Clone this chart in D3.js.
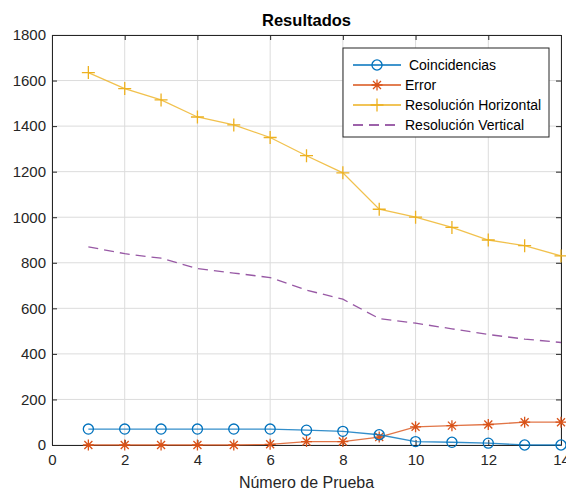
<!DOCTYPE html>
<html>
<head>
<meta charset="utf-8">
<script src="https://cdn.jsdelivr.net/npm/d3@7"></script>
<style>
  body { margin: 0; background: #fff; }
  svg { font-family: "Liberation Sans", Arial, sans-serif; }
</style>
</head>
<body>
<svg id="chart"></svg>
<script>
// chart data
const pruebas = [1, 2, 3, 4, 5, 6, 7, 8, 9, 10, 11, 12, 13, 14];
const coincidencias = [70, 70, 70, 70, 70, 70, 65, 60, 45, 15, 12, 8, 0, 0];
const errores = [0, 0, 0, 0, 0, 3, 15, 15, 35, 80, 85, 90, 100, 100];
const resHorizontal = [1635, 1565, 1515, 1440, 1405, 1350, 1270, 1195, 1035, 1000, 955, 900, 875, 830];
const resVertical = [870, 840, 820, 775, 755, 735, 680, 640, 555, 535, 510, 485, 465, 450];
const xTicks = [0, 2, 4, 6, 8, 10, 12, 14];
const yTicks = [0, 200, 400, 600, 800, 1000, 1200, 1400, 1600, 1800];
const seriesNames = [" Coincidencias", "Error", "Resolución Horizontal", "Resolución Vertical"];

// set up for svg size and position
const svgWidth = 566;
const svgHeight = 493;
const margin = { top: 35, right: 5, bottom: 48, left: 52 };
const width = svgWidth - margin.left - margin.right;
const height = svgHeight - margin.top - margin.bottom;

const svg = d3.select("#chart")
    .attr("width", svgWidth)
    .attr("height", svgHeight)
    .append("g")
    .attr("transform", `translate(${margin.left}, ${margin.top})`);

const xScale = d3.scaleLinear().domain([0, 14]).range([0, width]);
const yScale = d3.scaleLinear().domain([0, 1800]).range([height, 0]);

// grid
svg.append("g")
    .selectAll("line")
    .data(xTicks)
    .join("line")
    .attr("x1", d => xScale(d)).attr("x2", d => xScale(d))
    .attr("y1", 0).attr("y2", height)
    .attr("stroke", "#dcdcdc");
svg.append("g")
    .selectAll("line")
    .data(yTicks)
    .join("line")
    .attr("x1", 0).attr("x2", width)
    .attr("y1", d => yScale(d)).attr("y2", d => yScale(d))
    .attr("stroke", "#dcdcdc");

// axes (ticks inside, box on)
const axisColor = "#262626";
function styleAxis(g) {
    g.select(".domain").attr("stroke", axisColor);
    g.selectAll(".tick line").attr("stroke", axisColor);
    g.selectAll(".tick text").attr("fill", axisColor).style("font-size", "15px")
        .style("font-family", "'Liberation Sans', Arial, sans-serif");
}
svg.append("g")
    .attr("transform", `translate(0, ${height})`)
    .call(d3.axisBottom(xScale).tickValues(xTicks).tickSize(-5).tickSizeOuter(0).tickPadding(9).tickFormat(d3.format("d")))
    .call(styleAxis);
svg.append("g")
    .call(d3.axisLeft(yScale).tickValues(yTicks).tickSize(-5).tickSizeOuter(0).tickPadding(6).tickFormat(d3.format("d")))
    .call(styleAxis);
svg.append("g")
    .call(d3.axisTop(xScale).tickValues(xTicks).tickSize(-5).tickSizeOuter(0).tickFormat(""))
    .call(styleAxis);
svg.append("g")
    .attr("transform", `translate(${width}, 0)`)
    .call(d3.axisRight(yScale).tickValues(yTicks).tickSize(-5).tickSizeOuter(0).tickFormat(""))
    .call(styleAxis);

// title and label
svg.append("text")
    .attr("x", width / 2)
    .attr("y", -9)
    .attr("text-anchor", "middle")
    .attr("fill", "#000")
    .style("font-size", "16.5px")
    .style("font-weight", "bold")
    .text("Resultados");
svg.append("text")
    .attr("x", width / 2)
    .attr("y", height + 43)
    .attr("text-anchor", "middle")
    .attr("fill", axisColor)
    .style("font-size", "16px")
    .text("Número de Prueba");

// marker shapes
const circleSym = d3.symbol().type(d3.symbolCircle).size(80);
const starPath = "M-5.5,0H5.5M0,-5.5V5.5M-4,-4L4,4M-4,4L4,-4";
const plusPath = "M-6.5,0H6.5M0,-6.5V6.5";

const series = [
    { values: coincidencias, color: "#0072BD", marker: "circle", dash: null },
    { values: errores, color: "#D95319", marker: "star", dash: null },
    { values: resHorizontal, color: "#EDB120", marker: "plus", dash: null },
    { values: resVertical, color: "#7E2F8E", marker: null, dash: "10,6" }
];

function drawMarker(g, type, color) {
    if (type === "circle") {
        g.append("path").attr("d", circleSym()).attr("fill", "none").attr("stroke", color).attr("stroke-width", 1.3);
    } else if (type === "star") {
        g.append("path").attr("d", starPath).attr("fill", "none").attr("stroke", color).attr("stroke-width", 1.3);
    } else if (type === "plus") {
        g.append("path").attr("d", plusPath).attr("fill", "none").attr("stroke", color).attr("stroke-width", 1.3);
    }
}

const line = d3.line().x((d, i) => xScale(pruebas[i])).y(d => yScale(d));

series.slice().reverse().forEach(s => {
    svg.append("path")
        .datum(s.values)
        .attr("d", line)
        .attr("fill", "none")
        .attr("stroke", s.color)
        .attr("stroke-width", 1.3)
        .attr("stroke-opacity", 0.8)
        .attr("stroke-dasharray", s.dash);
    if (s.marker) {
        s.values.forEach((v, i) => {
            const g = svg.append("g")
                .attr("transform", `translate(${xScale(pruebas[i])}, ${yScale(v)})`);
            drawMarker(g, s.marker, s.color);
        });
    }
});

// legend
const legend = svg.append("g")
    .attr("transform", `translate(${343 - margin.left}, ${48 - margin.top})`);
legend.append("rect")
    .attr("width", 206)
    .attr("height", 89)
    .attr("fill", "#fff")
    .attr("stroke", axisColor)
    .attr("stroke-width", 1);
series.forEach((s, i) => {
    const y = 17 + i * 20;
    legend.append("line")
        .attr("x1", 10).attr("x2", 58)
        .attr("y1", y).attr("y2", y)
        .attr("stroke", s.color)
        .attr("stroke-width", 1.3)
        .attr("stroke-dasharray", s.dash);
    const g = legend.append("g").attr("transform", `translate(34, ${y})`);
    drawMarker(g, s.marker, s.color);
    legend.append("text")
        .attr("x", 62)
        .attr("y", y)
        .attr("dy", "0.35em")
        .attr("fill", "#000")
        .style("font-size", "14px")
        .style("white-space", "pre")
        .text(seriesNames[i]);
});
</script>
</body>
</html>
